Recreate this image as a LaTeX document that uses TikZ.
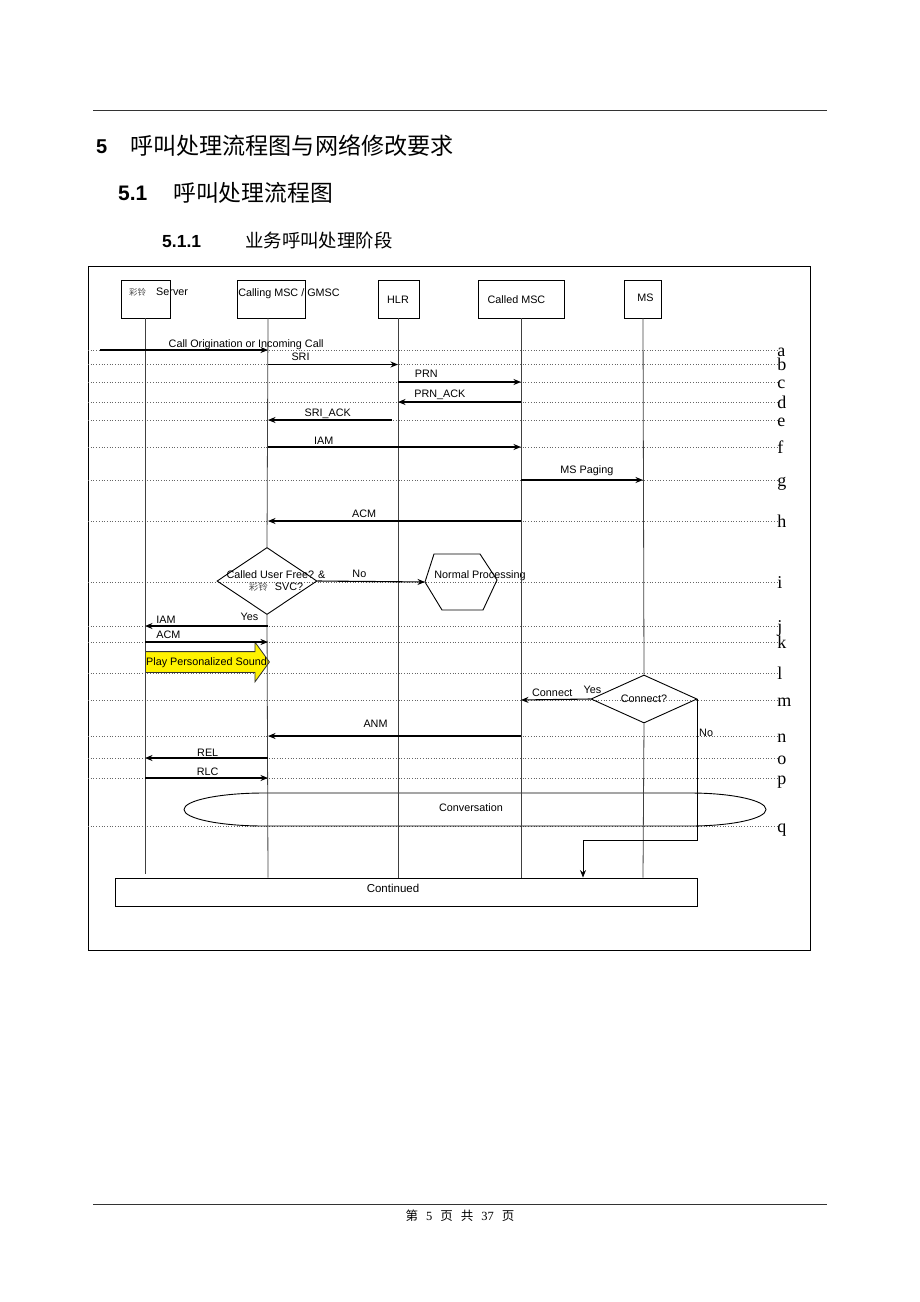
\documentclass[tikz,border=0pt]{standalone}
\usepackage{fontspec}
\setmainfont{Liberation Sans}
\newfontfamily\cjk{Noto Sans CJK SC}
\newfontfamily\serif{Liberation Serif}
\usepackage{tikz}
\usetikzlibrary{arrows.meta,shapes.geometric,shapes.arrows,positioning}

\begin{document}
\begin{tikzpicture}[x=1pt,y=-1pt,>={Stealth[length=7.5pt,width=6pt]},
                    font=\fontsize{10.8}{12}\selectfont]
  \tikzstyle{entity}=[draw,line width=0.9pt,minimum height=38pt]
  \tikzstyle{life}=[draw=black!75,line width=0.8pt]
  \tikzstyle{msg}=[->,line width=1.1pt]
  \tikzstyle{row}=[draw=black!60,dotted,line width=0.7pt]
  \tikzstyle{rowtag}=[font=\serif\fontsize{18}{18}\selectfont,anchor=base west,
                      inner sep=0pt,yshift=-6pt]
  \tikzstyle{lbl}=[anchor=base,inner sep=0pt,yshift=4pt]
  \tikzstyle{decision}=[draw,diamond,line width=0.9pt,inner sep=0pt]
  \tikzstyle{sound}=[draw=black!80,fill=yellow,single arrow,inner sep=10pt,
                     single arrow head extend=9.5pt,single arrow tip angle=108,
                     minimum height=124pt,line width=0.8pt]

  \useasboundingbox (0,0) rectangle (920,1302);

  % page head and foot
  \draw[line width=1pt,black!80] (93,110) -- (827,110);
  \draw[line width=1pt,black!80] (93,1204) -- (827,1204);
  \node[anchor=base west,inner sep=0pt,font=\bfseries\fontsize{20}{20}\selectfont]
    (h1num) at (96,153) {5};
  \node[anchor=base west,inner sep=0pt,font=\cjk\fontsize{23.1}{23.1}\selectfont]
    (h1) at (130,154) {呼叫处理流程图与网络修改要求};
  \node[anchor=base west,inner sep=0pt,font=\bfseries\fontsize{21}{21}\selectfont]
    (h2num) at (118,200) {5.1};
  \node[anchor=base west,inner sep=0pt,font=\cjk\fontsize{22.8}{22.8}\selectfont]
    (h2) at (173,201) {呼叫处理流程图};
  \node[anchor=base west,inner sep=0pt,font=\bfseries\fontsize{17.5}{17.5}\selectfont]
    (h3num) at (162,247) {5.1.1};
  \node[anchor=base west,inner sep=0pt,font=\cjk\fontsize{18.4}{18.4}\selectfont]
    (h3) at (245,247) {业务呼叫处理阶段};
  \node[anchor=base,inner sep=0pt,font=\fontsize{12.5}{12.5}\selectfont] (pgno) at (460,1220)
    {{\cjk 第}\hspace{8pt}{\serif 5}\hspace{8pt}{\cjk 页}\hspace{8pt}{\cjk 共}\hspace{8pt}{\serif 37}\hspace{8pt}{\cjk 页}};

  % frame
  \draw[line width=1pt] (88,266) rectangle (810,950);

  % step lines a..q
  \foreach \tag/\y in {a/350,b/364.5,c/382,d/402,e/420,f/447,g/480,h/521,
                       i/582,j/626,k/642,l/673,m/700,n/736,o/758,p/778,q/826}
  {
    \coordinate (r\tag) at (88,\y);
    \draw[row] (r\tag) -- (777,\y) node[rowtag] (t\tag) {\tag};
  }

  % entities
  \node[entity,minimum width=49pt] (srv)  at (145.5,299) {};
  \node[entity,minimum width=68pt] (call) at (271,299)   {};
  \node[entity,minimum width=41pt] (hlr)  at (398.5,299) {};
  \node[entity,minimum width=86pt] (cmsc) at (521,299)   {};
  \node[entity,minimum width=37pt] (ms)   at (642.5,299) {};
  \node[anchor=west,inner sep=0pt] (srvtxt) at (129,292)
    {{\cjk\fontsize{8.5}{10}\selectfont\color{black!70}彩铃}\hspace{10pt}Server};
  \node[inner sep=0pt] (calltxt) at (289,294) {Calling MSC / GMSC};
  \node[inner sep=0pt] (hlrtxt)  at (398,300) {HLR};
  \node[inner sep=0pt] (cmsctxt) at (516.5,300) {Called MSC};
  \node[inner sep=0pt] (mstxt)   at (645.5,298) {MS};

  \coordinate (Lsrv)  at (145,318);
  \coordinate (Lcall) at (268,318);
  \coordinate (Lhlr)  at (398,318);
  \coordinate (Lcmsc) at (521,318);
  \coordinate (Lms)   at (643,318);

  % decisions, processing, sound, conversation, continued
  \node[decision,minimum width=100pt,minimum height=67pt] (dfree) at (267,581) {};
  \node[align=center,inner sep=0pt,font=\fontsize{10.8}{11.5}\selectfont] (dfreetxt) at (276,581)
    {Called User Free? \&\\{\cjk\fontsize{9.5}{10}\selectfont\color{black!70}彩铃}\hspace{7pt}SVC?};
  \node[decision,shape aspect=2,minimum width=106pt,minimum height=48pt] (dconn) at (644,699)
    {Connect?};

  \coordinate (hexL) at (425,582);
  \draw[line width=0.9pt] (hexL) -- (434,554) -- (480,554) -- (497,580)
    -- (483,610) -- (442,610) -- cycle;
  \node[inner sep=0pt] (norm) at (480,576) {Normal Processing};

  \node[sound,anchor=tail] (play) at (145,662) {};
  \node[inner sep=0pt] (playtxt) at (206.5,662.5) {Play Personalized Sound};

  \draw[line width=0.9pt] (264,793) -- (690,793)
    arc[start angle=90,end angle=-90,x radius=76pt,y radius=16.5pt]
    -- (264,826)
    arc[start angle=270,end angle=90,x radius=80pt,y radius=16.5pt];
  \node[inner sep=0pt] (conv) at (471,807.5) {Conversation};

  \node[draw,line width=0.9pt,minimum width=582pt,minimum height=28pt] (cont) at (406,892) {};
  \node[inner sep=0pt,font=\fontsize{11.5}{12}\selectfont] (conttxt) at (393,888) {Continued};

  % lifelines
  \draw[life] (Lsrv) -- ++(0,556);
  \draw[life] (Lcall) -- (dfree.north);
  \draw[life] (dfree.south) -- (Lcall |- cont.north);
  \draw[life] (Lhlr) -- (Lhlr |- cont.north);
  \draw[life] (Lcmsc) -- (Lcmsc |- cont.north);
  \draw[life] (Lms) -- (dconn.north);
  \draw[life] (dconn.south) -- (Lms |- cont.north);

  % messages
  \coordinate (caller) at (100,350);
  \draw[msg] (caller) -- node[lbl,pos=.87,yshift=-1pt] {Call Origination or Incoming Call} (Lcall |- ra);
  \draw[msg] (Lcall |- rb) -- node[lbl,pos=.25] {SRI} (Lhlr |- rb);
  \draw[msg] (Lhlr |- rc) -- node[lbl,pos=.23,yshift=1pt] {PRN} (Lcmsc |- rc);
  \draw[msg] (Lcmsc |- rd) -- node[lbl,pos=.66,yshift=1pt] {PRN\_ACK} (Lhlr |- rd);
  \draw[msg,shorten <=6pt] (Lhlr |- re) -- node[lbl,pos=.54] {SRI\_ACK} (Lcall |- re);
  \draw[msg] (Lcall |- rf) -- node[lbl,pos=.22,yshift=-1pt] {IAM} (Lcmsc |- rf);
  \draw[msg] (Lcmsc |- rg) -- node[lbl,pos=.54,yshift=3pt] {MS Paging} (Lms |- rg);
  \draw[msg] (Lcmsc |- rh) -- node[lbl,pos=.62] {ACM} (Lcall |- rh);
  \draw[msg] (dfree.east) -- node[lbl,pos=.39] {No} (hexL);
  \draw[msg] (Lcall |- rj) -- node[lbl,pos=.83,yshift=-1pt] {IAM}
                              node[lbl,pos=.15,yshift=2pt] {Yes} (Lsrv |- rj);
  \draw[msg] (Lsrv |- rk) -- node[lbl,pos=.19] {ACM} (Lcall |- rk);
  \draw[msg] (dconn.west) -- node[lbl,pos=.55,yshift=-1pt] {Connect}
                             node[lbl,pos=0,xshift=2pt,yshift=2pt] {Yes} (Lcmsc |- rm);
  \draw[msg] (Lcmsc |- rn) -- node[lbl,pos=.575,yshift=5pt] {ANM} (Lcall |- rn);
  \draw[msg] (Lcall |- ro) -- node[lbl,pos=.49,yshift=-2pt] {REL} (Lsrv |- ro);
  \draw[msg] (Lsrv |- rp) -- node[lbl,pos=.51,yshift=-1.5pt] {RLC} (Lcall |- rp);

  % no connect
  \coordinate (nobend) at (583,840);
  \draw[->,line width=0.9pt] (dconn.east) |- (nobend) -- (nobend |- cont.north);
  \node[anchor=base west,inner sep=0pt] (notxt) at (699,736) {No};
\end{tikzpicture}
\end{document}
